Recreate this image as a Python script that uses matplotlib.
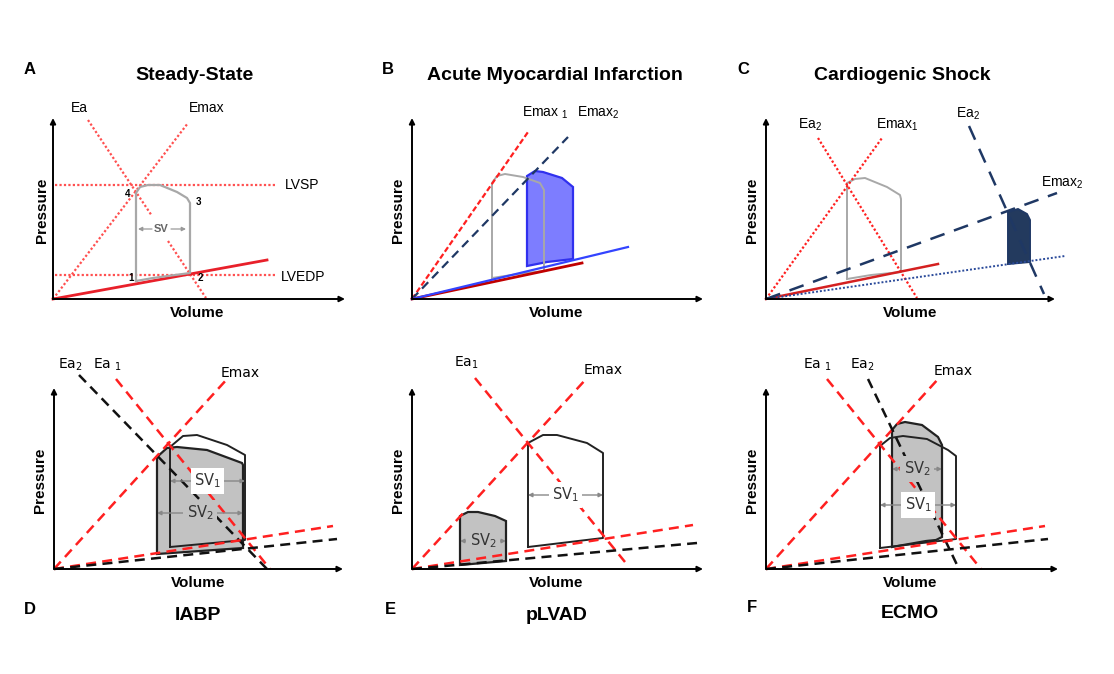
import numpy as np
import matplotlib
matplotlib.use('Agg')
import matplotlib.pyplot as plt

plt.rcParams['font.family'] = ['Liberation Sans', 'DejaVu Sans']
plt.rcParams['mathtext.fontset'] = 'custom'
plt.rcParams['mathtext.rm'] = 'Liberation Sans'
plt.rcParams['mathtext.it'] = 'Liberation Sans:italic'
plt.rcParams['mathtext.bf'] = 'Liberation Sans:bold'
plt.rcParams['mathtext.default'] = 'regular'

# ---- Data (volume, pressure in arbitrary units) ----
# A: steady state
a_emax_v, a_emax_p = [0, 135], [0, 176]
a_ea_v, a_ea_p = [35, 99, np.nan, 115, 153], [179, 83, np.nan, 58, 1]
a_edpvr_v, a_edpvr_p = [0, 214], [0, 39]
a_lvsp, a_lvedp = 114, 24
a_loop_v = [83, 83, 87, 95, 107, 124, 134, 137, 137, 100, 83]
a_loop_p = [18, 106, 112, 114, 114, 107, 101, 96, 26, 21, 18]

# B: acute myocardial infarction
b_emax1_v, b_emax1_p = [0, 116], [0, 167]
b_emax2_v, b_emax2_p = [0, 156], [0, 162]
b_edpvr1_v, b_edpvr1_p = [0, 170], [0, 36]
b_edpvr2_v, b_edpvr2_p = [0, 216], [0, 52]
b_loop1_v = [80, 80, 85, 93, 111, 128, 132, 132, 106, 80]
b_loop1_p = [21, 116, 123, 125, 122, 116, 109, 28, 25, 21]
b_loop2_v = [115, 115, 123, 131, 150, 161, 161, 135, 115]
b_loop2_p = [33, 123, 128, 127, 121, 112, 40, 37, 33]

# C: cardiogenic shock
c_ea1_v, c_ea1_p = [52, 151], [161, 1]
c_emax1_v, c_emax1_p = [0, 116], [0, 161]
c_edpvr1_v, c_edpvr1_p = [0, 172], [0, 35]
c_edpvr2_v, c_edpvr2_p = [0, 299], [0, 43]
c_emax2_v, c_emax2_p = [0, 291], [0, 106]
c_ea2_v, c_ea2_p = [203, 278], [173, 5]
c_loop1_v = [81, 81, 89, 99, 121, 134, 135, 135, 105, 81]
c_loop1_p = [20, 116, 120, 121, 112, 104, 100, 27, 24, 20]
c_loop2_v = [242, 242, 252, 261, 264, 264, 242]
c_loop2_p = [35, 87, 90, 85, 79, 37, 35]

# D: IABP
d_emax_v, d_emax_p = [0, 174], [0, 191]
d_ea1_v, d_ea1_p = [62, 216], [190, 0]
d_ea2_v, d_ea2_p = [25, 213], [194, 0]
d_edpvr1_v, d_edpvr1_p = [0, 279], [0, 43]
d_edpvr2_v, d_edpvr2_p = [0, 283], [0, 30]
d_loop1_v = [116, 116, 129, 143, 173, 191, 191, 116]
d_loop1_p = [22, 122, 133, 134, 124, 114, 29, 22]
d_loop2_v = [103, 103, 113, 123, 153, 188, 189, 189, 103]
d_loop2_p = [15, 112, 121, 122, 119, 106, 104, 21, 15]

# E: pLVAD
e_emax_v, e_emax_p = [0, 175], [0, 191]
e_ea1_v, e_ea1_p = [63, 213], [191, 7]
e_edpvr1_v, e_edpvr1_p = [0, 281], [0, 44]
e_edpvr2_v, e_edpvr2_p = [0, 285], [0, 26]
e_loop1_v = [116, 116, 131, 145, 175, 191, 191, 116]
e_loop1_p = [22, 126, 134, 134, 126, 116, 31, 22]
e_loop2_v = [48, 48, 56, 66, 83, 94, 94, 48]
e_loop2_p = [4, 53, 57, 57, 53, 48, 8, 4]

# F: ECMO
f_emax_v, f_emax_p = [0, 173], [0, 191]
f_ea1_v, f_ea1_p = [61, 215], [190, 0]
f_ea2_v, f_ea2_p = [102, 193], [190, 0]
f_edpvr1_v, f_edpvr1_p = [0, 279], [0, 43]
f_edpvr2_v, f_edpvr2_p = [0, 282], [0, 30]
f_loop1_v = [114, 114, 124, 137, 161, 182, 190, 190, 114]
f_loop1_p = [21, 123, 131, 133, 130, 119, 113, 30, 21]
f_loop2_v = [126, 126, 131, 139, 156, 172, 176, 176, 170, 160, 126]
f_loop2_p = [22, 139, 145, 147, 144, 132, 124, 32, 29, 28, 22]

# ---- Layout helpers ----
FW, FH = 1114, 674
fig = plt.figure(figsize=(FW / 100, FH / 100), dpi=100)

RED = '#ff2020'
NAVY = '#1f3864'
LOOPGRAY = '#a8a8a8'
FILLGRAY = '#c2c2c2'


def make_panel(ox, oy, xlen, ylen=181):
    xlo, xhi, ylo, yhi = -50, 320, -60, 240
    ax = fig.add_axes([(ox + xlo) / FW, (FH - oy + ylo) / FH,
                       (xhi - xlo) / FW, (yhi - ylo) / FH])
    ax.set_xlim(xlo, xhi)
    ax.set_ylim(ylo, yhi)
    ax.axis('off')
    arrow = dict(arrowstyle='-|>', color='black', lw=1.4, mutation_scale=8,
                 shrinkA=0, shrinkB=0)
    ax.annotate('', xy=(xlen, 0), xytext=(0, 0), arrowprops=arrow)
    ax.annotate('', xy=(0, ylen), xytext=(0, 0), arrowprops=arrow)
    ax.text(144, -14, 'Volume', ha='center', va='center', fontsize=11, fontweight='bold')
    return ax


def ylab(ax, x):
    ax.text(x, 89, 'Pressure', ha='center', va='center', rotation=90,
            fontsize=11, fontweight='bold')


def sv_arrow(ax, x0, x1, y, label, bg):
    arr = dict(arrowstyle='<|-|>', color='#888888', lw=1.0, mutation_scale=6,
               shrinkA=0, shrinkB=0)
    ax.annotate('', xy=(x0, y), xytext=(x1, y), arrowprops=arr)
    ax.text((x0 + x1) / 2, y, label, ha='center', va='center', fontsize=10.5,
            color='#333333', family='DejaVu Sans',
            bbox=dict(facecolor=bg, edgecolor='none', pad=2.5))


# ---- A: Steady-State ----
ax = make_panel(53, 299, 292)
ax.text(-23, 229, 'A', fontsize=12, fontweight='bold', ha='center', va='center')
ax.text(142, 223, 'Steady-State', fontsize=14, fontweight='bold', ha='center', va='center')
ylab(ax, -11)
dot = dict(color='#ff5050', lw=1.6, linestyle=(0, (1, 1)))
ax.plot([2, 222], [a_lvsp, a_lvsp], **dot)
ax.plot([2, 222], [a_lvedp, a_lvedp], **dot)
ax.plot(a_emax_v, a_emax_p, **dot)
ax.plot(a_ea_v, a_ea_p, **dot)
ax.plot(a_edpvr_v, a_edpvr_p, color='#e8202a', lw=2)
ax.plot(a_loop_v, a_loop_p, color=LOOPGRAY, lw=1.6)
ax.text(26, 191, 'Ea', fontsize=10, ha='center', va='center')
ax.text(154, 191, 'Emax', fontsize=10, ha='center', va='center')
ax.text(249, 114, 'LVSP', fontsize=10, ha='center', va='center')
ax.text(250, 22, 'LVEDP', fontsize=10, ha='center', va='center')
for lbl, x, y in [('1', 78, 21), ('2', 147, 21), ('3', 145, 97), ('4', 75, 105)]:
    ax.text(x, y, lbl, fontsize=7, fontweight='bold', ha='center', va='center')
ax.text(108, 70, 'SV', fontsize=8, fontweight='bold', color='#666666', ha='center', va='center')
sv = dict(arrowstyle='-|>', color='#999999', lw=0.9, mutation_scale=6, shrinkA=0, shrinkB=0)
ax.annotate('', xy=(85, 70), xytext=(99, 70), arrowprops=sv)
ax.annotate('', xy=(133, 70), xytext=(118, 70), arrowprops=sv)

# ---- B: Acute Myocardial Infarction ----
ax = make_panel(412, 299, 291)
ax.text(-24, 229, 'B', fontsize=12, fontweight='bold', ha='center', va='center')
ax.text(143, 223, 'Acute Myocardial Infarction', fontsize=14, fontweight='bold',
        ha='center', va='center')
ylab(ax, -14)
ax.plot(b_loop1_v, b_loop1_p, color=LOOPGRAY, lw=1.4)
ax.fill(b_loop2_v, b_loop2_p, facecolor='#7d7dff', edgecolor='#3030ee', lw=1.6)
ax.plot(b_emax1_v, b_emax1_p, color=RED, lw=1.6, linestyle=(0, (2.5, 1.2)))
ax.plot(b_emax2_v, b_emax2_p, color=NAVY, lw=1.6, linestyle=(0, (4, 2.5)))
ax.plot(b_edpvr1_v, b_edpvr1_p, color='#c00000', lw=2)
ax.plot(b_edpvr2_v, b_edpvr2_p, color='#3344ff', lw=1.6)
ax.text(133, 186, r'Emax $_1$', fontsize=10, ha='center', va='center')
ax.text(186, 186, r'Emax$_2$', fontsize=10, ha='center', va='center')

# ---- C: Cardiogenic Shock ----
ax = make_panel(766, 299, 289)
ax.text(-23, 229, 'C', fontsize=12, fontweight='bold', ha='center', va='center')
ax.text(136, 223, 'Cardiogenic Shock', fontsize=14, fontweight='bold', ha='center', va='center')
ylab(ax, -14)
ax.plot(c_loop1_v, c_loop1_p, color=LOOPGRAY, lw=1.4)
ax.fill(c_loop2_v, c_loop2_p, facecolor='#233a5e', edgecolor=NAVY, lw=1.4)
ax.plot(c_ea1_v, c_ea1_p, color=RED, lw=1.6, linestyle=(0, (1, 1)))
ax.plot(c_emax1_v, c_emax1_p, color=RED, lw=1.6, linestyle=(0, (1, 1)))
ax.plot(c_edpvr1_v, c_edpvr1_p, color='#d42020', lw=1.8)
ax.plot(c_edpvr2_v, c_edpvr2_p, color='#2a4a9a', lw=1.4, linestyle=(0, (1, 1)))
ax.plot(c_emax2_v, c_emax2_p, color=NAVY, lw=1.8, linestyle=(0, (6, 4)))
ax.plot(c_ea2_v, c_ea2_p, color=NAVY, lw=1.8, linestyle=(0, (6, 4)))
ax.text(44, 174, r'Ea$_2$', fontsize=10, ha='center', va='center')
ax.text(131, 174, r'Emax$_1$', fontsize=10, ha='center', va='center')
ax.text(202, 185, r'Ea$_2$', fontsize=10, ha='center', va='center')
ax.text(296, 116, r'Emax$_2$', fontsize=10, ha='center', va='center')

# ---- D: IABP ----
dash = (0, (4, 2.5))
ax = make_panel(54, 569, 289)
ax.text(-24, -41, 'D', fontsize=12, fontweight='bold', ha='center', va='center')
ax.text(144, -46, 'IABP', fontsize=14, fontweight='bold', ha='center', va='center')
ylab(ax, -14)
ax.fill(d_loop2_v, d_loop2_p, facecolor=FILLGRAY, edgecolor='#222222', lw=1.6)
ax.plot(d_loop1_v, d_loop1_p, color='#222222', lw=1.4)
sv_arrow(ax, 116, 191, 88, r'SV$_1$', 'white')
sv_arrow(ax, 103, 189, 56, r'SV$_2$', FILLGRAY)
ax.plot(d_emax_v, d_emax_p, color=RED, lw=1.8, linestyle=dash)
ax.plot(d_ea1_v, d_ea1_p, color=RED, lw=1.8, linestyle=dash)
ax.plot(d_ea2_v, d_ea2_p, color='#111111', lw=1.8, linestyle=dash)
ax.plot(d_edpvr1_v, d_edpvr1_p, color=RED, lw=1.8, linestyle=dash)
ax.plot(d_edpvr2_v, d_edpvr2_p, color='#111111', lw=1.8, linestyle=dash)
ax.text(16, 204, r'Ea$_2$', fontsize=10, ha='center', va='center', family='DejaVu Sans')
ax.text(54, 204, r'Ea $_1$', fontsize=10, ha='center', va='center', family='DejaVu Sans')
ax.text(186, 196, 'Emax', fontsize=10, ha='center', va='center', family='DejaVu Sans')

# ---- E: pLVAD ----
ax = make_panel(412, 569, 291)
ax.text(-22, -41, 'E', fontsize=12, fontweight='bold', ha='center', va='center')
ax.text(145, -46, 'pLVAD', fontsize=14, fontweight='bold', ha='center', va='center')
ylab(ax, -14)
ax.fill(e_loop2_v, e_loop2_p, facecolor=FILLGRAY, edgecolor='#222222', lw=1.6)
ax.plot(e_loop1_v, e_loop1_p, color='#222222', lw=1.4)
sv_arrow(ax, 116, 191, 74, r'SV$_1$', 'white')
sv_arrow(ax, 48, 94, 28, r'SV$_2$', FILLGRAY)
ax.plot(e_emax_v, e_emax_p, color=RED, lw=1.8, linestyle=dash)
ax.plot(e_ea1_v, e_ea1_p, color=RED, lw=1.8, linestyle=dash)
ax.plot(e_edpvr1_v, e_edpvr1_p, color=RED, lw=1.8, linestyle=dash)
ax.plot(e_edpvr2_v, e_edpvr2_p, color='#111111', lw=1.8, linestyle=dash)
ax.text(54, 206, r'Ea$_1$', fontsize=10, ha='center', va='center', family='DejaVu Sans')
ax.text(191, 199, 'Emax', fontsize=10, ha='center', va='center', family='DejaVu Sans')

# ---- F: ECMO ----
ax = make_panel(766, 569, 292)
ax.text(-14, -39, 'F', fontsize=12, fontweight='bold', ha='center', va='center')
ax.text(144, -44, 'ECMO', fontsize=14, fontweight='bold', ha='center', va='center')
ylab(ax, -14)
ax.fill(f_loop2_v, f_loop2_p, facecolor=FILLGRAY, edgecolor='#222222', lw=1.6)
ax.plot(f_loop1_v, f_loop1_p, color='#222222', lw=1.4)
sv_arrow(ax, 126, 176, 100, r'SV$_2$', FILLGRAY)
sv_arrow(ax, 114, 190, 64, r'SV$_1$', 'white')
ax.plot(f_emax_v, f_emax_p, color=RED, lw=1.8, linestyle=dash)
ax.plot(f_ea1_v, f_ea1_p, color=RED, lw=1.8, linestyle=dash)
ax.plot(f_ea2_v, f_ea2_p, color='#111111', lw=1.8, linestyle=dash)
ax.plot(f_edpvr1_v, f_edpvr1_p, color=RED, lw=1.8, linestyle=dash)
ax.plot(f_edpvr2_v, f_edpvr2_p, color='#111111', lw=1.8, linestyle=dash)
ax.text(52, 204, r'Ea $_1$', fontsize=10, ha='center', va='center', family='DejaVu Sans')
ax.text(96, 204, r'Ea$_2$', fontsize=10, ha='center', va='center', family='DejaVu Sans')
ax.text(187, 198, 'Emax', fontsize=10, ha='center', va='center', family='DejaVu Sans')

fig.savefig('out.png', dpi=100)
